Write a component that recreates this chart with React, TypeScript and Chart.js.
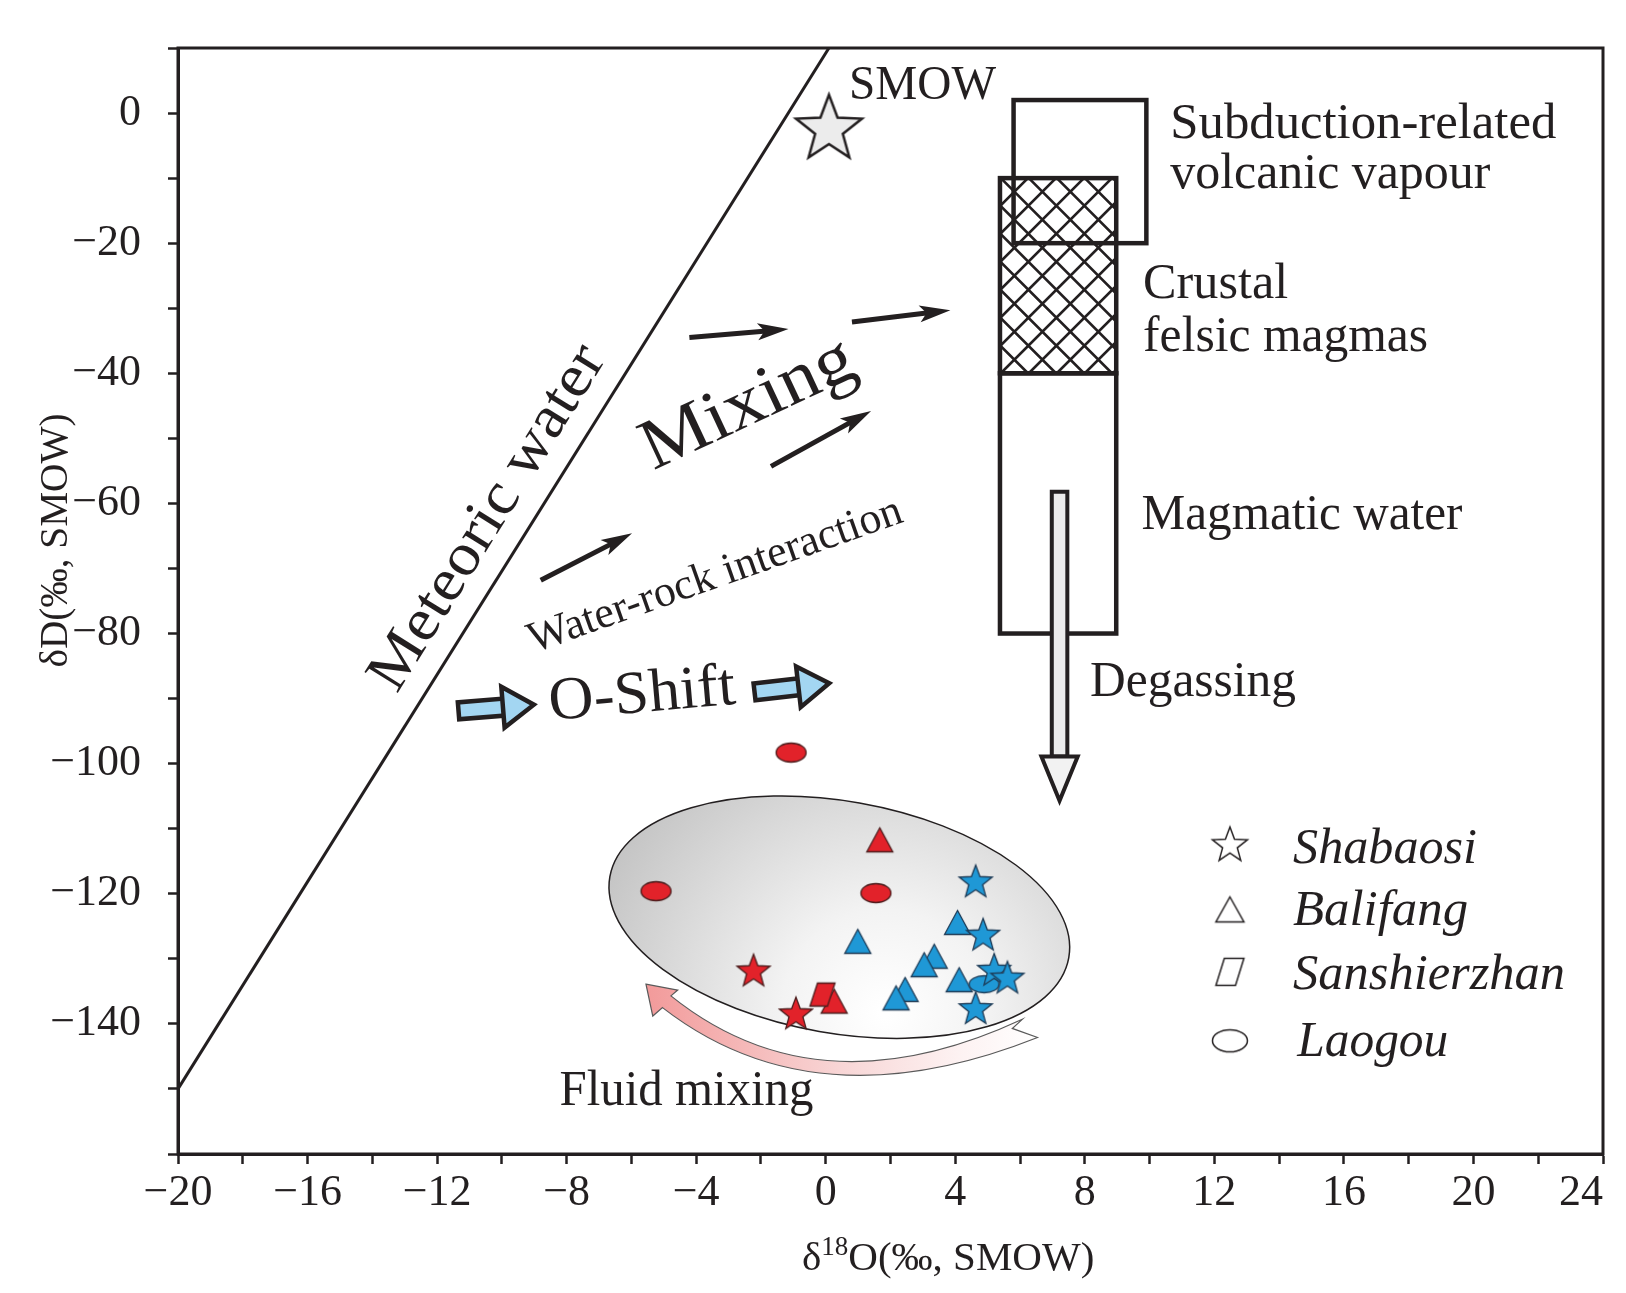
import React, { useEffect, useRef } from 'react';
import { Chart, registerables } from 'chart.js';

Chart.register(...registerables);

type Pt = [number, number];

// ---------------- axis definition ----------------
const xMin = -20;
const xMax = 24;
const xStep = 2;
const xLabelEvery = 4;
const yMin = -160;
const yMax = 10;
const yStep = 10;
const yLabelEvery = 20;
const yLabelLow = -140;
const yLabelHigh = 0;

// ---------------- data ----------------
const meteoricWater: Pt[] = [[-20, -150], [0.1, 10]];
const smowPoint: Pt[] = [[0.1, -2.0]];

const shabaosiRed: Pt[] = [[-2.23, -131.7], [-0.92, -138.3]];
const shabaosiBlue: Pt[] = [[4.63, -118.0], [4.86, -126.2], [5.2, -131.6], [5.61, -132.8], [4.63, -137.5]];
const balifangRed: Pt[] = [[1.67, -111.7], [0.26, -136.5]];
const balifangBlue: Pt[] = [[4.07, -124.4], [0.99, -127.3], [3.35, -129.6], [3.04, -130.9], [4.12, -133.2], [2.45, -134.7], [2.17, -136.0]];
const sanshierzhanRed: Pt[] = [[-0.1, -135.5]];
const laogouRed: Pt[] = [[-1.07, -98.3], [-5.24, -119.6], [1.55, -119.9]];
const laogouBlue: Pt[] = [[4.89, -133.9]];

// ---------------- annotation geometry (data units) ----------------
const vapourBox = { x0: 5.8, x1: 9.9, y0: -20, y1: 2 };
const felsicBox = { x0: 5.38, x1: 8.97, y0: -40, y1: -10 };
const magmaticBox = { x0: 5.38, x1: 8.97, y0: -80, y1: -40 };
const degassing = { x: 7.22, top: -58.2, headBase: -98.9, tip: -105.7, shaftHalf: 0.24, headHalf: 0.56 };
const mixingArrows: [Pt, Pt][] = [
  [[-8.8, -71.8], [-5.98, -64.6]],
  [[-1.69, -54.3], [1.4, -45.8]],
  [[-4.21, -34.5], [-1.15, -33.2]],
  [[0.81, -32.1], [3.85, -30.3]],
];
const oShiftArrows: [Pt, Pt][] = [
  [[-11.4, -91.9], [-8.92, -90.9]],
  [[-2.26, -89.0], [0.2, -87.6]],
];
const grayRegionCenter: Pt = [0.42, -123.6];
const fluidArrow = {
  tip: [-5.55, -133.9] as Pt,
  barbA: [-4.57, -134.8] as Pt,
  innerStart: [-4.78, -135.7] as Pt,
  innerCtrl: [-0.23, -153.9] as Pt,
  innerEnd: [6.07, -139.3] as Pt,
  notch: [5.76, -140.7] as Pt,
  outerEnd: [6.54, -142.1] as Pt,
  outerCtrl: [-0.33, -155.7] as Pt,
  outerStart: [-5.04, -137.5] as Pt,
  barbB: [-5.34, -138.8] as Pt,
};

interface TextSpec {
  text: string; x: number; y: number; size: number; width?: number;
  angle?: number; center?: boolean; italic?: boolean; alongMeteoric?: boolean;
}
const labels: TextSpec[] = [
  { text: 'SMOW', x: 0.72, y: 2.17, size: 48, width: 147 },
  { text: 'Subduction-related', x: 10.64, y: -3.9, size: 51, width: 386 },
  { text: 'volcanic vapour', x: 10.64, y: -11.5, size: 51, width: 320 },
  { text: 'Crustal', x: 9.8, y: -28.5, size: 51, width: 145 },
  { text: 'felsic magmas', x: 9.8, y: -36.5, size: 51, width: 285 },
  { text: 'Magmatic water', x: 9.75, y: -64, size: 51, width: 321 },
  { text: 'Degassing', x: 8.16, y: -89.6, size: 51, width: 206 },
  { text: 'Fluid mixing', x: -8.22, y: -152.4, size: 50, width: 254 },
  { text: 'Meteoric water', x: -10.42, y: -62.3, size: 60, width: 396, center: true, alongMeteoric: true },
  { text: 'Mixing', x: -2.38, y: -44.9, size: 72, width: 228, center: true, angle: -25 },
  { text: 'Water-rock interaction', x: -3.41, y: -71.2, size: 44, width: 394, center: true, angle: -19.5 },
  { text: 'O-Shift', x: -5.67, y: -89.6, size: 61, width: 187, center: true, angle: -5 },
];

const legendNames = ['Shabaosi', 'Balifang', 'Sanshierzhan', 'Laogou'];
const legendSymbolY = [-112.3, -122.4, -132.0, -142.6];
const legendLabelY = [-115.3, -124.8, -134.7, -145.0];
const legendSymbolX = 12.48;
const legendLabelX = [14.43, 14.43, 14.43, 14.56];
const legendLabelWidth = [184, 175, 272, 151];

// ---------------- styles ----------------
const INK = '#231f20';
const RED = '#e2222a';
const BLUE = '#1f98d6';
const LIGHT_BLUE = '#a3d6f2';
const FONT = '"Liberation Serif", "Times New Roman", serif';

type Shape = 'star' | 'triangle' | 'para' | 'ellipse';

function makeMarker(shape: Shape, w: number, h: number, fill: string, stroke: string, lw: number): HTMLCanvasElement {
  const c = document.createElement('canvas');
  const W = Math.ceil(w + lw * 2 + 6);
  const H = Math.ceil(h + lw * 2 + 6);
  c.width = W;
  c.height = H;
  const g = c.getContext('2d') as CanvasRenderingContext2D;
  const cx = W / 2;
  const cy = H / 2;
  g.beginPath();
  if (shape === 'star') {
    const R = w / (2 * Math.sin((72 * Math.PI) / 180));
    const r = R * 0.42;
    const gy = cy + 0.0955 * R;
    for (let i = 0; i < 10; i++) {
      const a = -Math.PI / 2 + (i * Math.PI) / 5;
      const rad = i % 2 === 0 ? R : r;
      const px = cx + rad * Math.cos(a);
      const py = gy + rad * Math.sin(a);
      if (i === 0) g.moveTo(px, py); else g.lineTo(px, py);
    }
    g.closePath();
  } else if (shape === 'triangle') {
    g.moveTo(cx, cy - h / 2);
    g.lineTo(cx + w / 2, cy + h / 2);
    g.lineTo(cx - w / 2, cy + h / 2);
    g.closePath();
  } else if (shape === 'para') {
    const s = w * 0.3;
    g.moveTo(cx - w / 2 + s, cy - h / 2);
    g.lineTo(cx + w / 2, cy - h / 2);
    g.lineTo(cx + w / 2 - s, cy + h / 2);
    g.lineTo(cx - w / 2, cy + h / 2);
    g.closePath();
  } else {
    g.ellipse(cx, cy, w / 2, h / 2, 0, 0, Math.PI * 2);
  }
  if (fill !== 'none') {
    g.fillStyle = fill;
    g.fill();
  }
  g.lineWidth = lw;
  g.strokeStyle = stroke;
  g.lineJoin = 'miter';
  g.stroke();
  return c;
}

function fmt(v: number): string {
  return v < 0 ? '\u2212' + Math.abs(v) : String(v);
}

export default function App() {
  const ref = useRef<HTMLCanvasElement | null>(null);

  useEffect(() => {
    const canvas = ref.current;
    if (!canvas) return;

    const redOutline = '#4a1c1c';
    const blueOutline = '#1d3a55';
    const mk = {
      starRed: makeMarker('star', 33, 32, RED, redOutline, 1.3),
      starBlue: makeMarker('star', 33, 32, BLUE, blueOutline, 1.3),
      triRed: makeMarker('triangle', 26, 24, RED, redOutline, 1.3),
      triBlue: makeMarker('triangle', 26, 24, BLUE, blueOutline, 1.3),
      paraRed: makeMarker('para', 25, 23, RED, redOutline, 1.3),
      ellRed: makeMarker('ellipse', 30, 19, RED, redOutline, 1.3),
      ellBlue: makeMarker('ellipse', 30, 17, BLUE, blueOutline, 1.3),
      smow: makeMarker('star', 66, 63, '#ececec', INK, 2.5),
    };
    const legendMarkers = [
      makeMarker('star', 35, 33, '#ffffff', INK, 1.5),
      makeMarker('triangle', 28, 25, '#ffffff', INK, 1.5),
      makeMarker('para', 28, 27, '#ffffff', INK, 1.5),
      makeMarker('ellipse', 35, 22, '#ffffff', INK, 1.5),
    ];

    const toXY = (arr: Pt[]) => arr.map(([x, y]) => ({ x, y }));
    const markerSet = (label: string, arr: Pt[], style: HTMLCanvasElement) => ({
      label,
      data: toXY(arr),
      pointStyle: style,
      pointRadius: 12,
      pointHoverRadius: 12,
      showLine: false,
    });

    const datasets: any[] = [
      markerSet('Shabaosi (blue)', shabaosiBlue, mk.starBlue),
      markerSet('Laogou (blue)', laogouBlue, mk.ellBlue),
      markerSet('Balifang (blue)', balifangBlue, mk.triBlue),
      markerSet('Shabaosi (red)', shabaosiRed, mk.starRed),
      markerSet('Sanshierzhan (red)', sanshierzhanRed, mk.paraRed),
      markerSet('Balifang (red)', balifangRed, mk.triRed),
      markerSet('Laogou (red)', laogouRed, mk.ellRed),
      markerSet('SMOW', smowPoint, mk.smow),
      {
        label: 'Meteoric water',
        data: toXY(meteoricWater),
        showLine: true,
        borderColor: INK,
        borderWidth: 3,
        pointRadius: 0,
        fill: false,
      },
    ];

    const drawText = (ctx: CanvasRenderingContext2D, t: TextSpec, X: (v: number) => number, Y: (v: number) => number) => {
      ctx.save();
      ctx.translate(X(t.x), Y(t.y));
      let ang = t.angle ? (t.angle * Math.PI) / 180 : 0;
      if (t.alongMeteoric) {
        const [a, b] = meteoricWater;
        ang = Math.atan2(Y(b[1]) - Y(a[1]), X(b[0]) - X(a[0]));
      }
      if (ang) ctx.rotate(ang);
      ctx.font = `${t.italic ? 'italic ' : ''}${t.size}px ${FONT}`;
      ctx.fillStyle = INK;
      ctx.textAlign = t.center ? 'center' : 'left';
      ctx.textBaseline = t.center ? 'middle' : 'alphabetic';
      if (t.width) {
        const w = ctx.measureText(t.text).width;
        ctx.scale(t.width / w, 1);
      }
      ctx.fillText(t.text, 0, 0);
      ctx.restore();
    };

    const annotationPlugin = {
      id: 'annotations',
      beforeDatasetsDraw(chart: any) {
        const ctx: CanvasRenderingContext2D = chart.ctx;
        const xs = chart.scales.x;
        const ys = chart.scales.y;
        const X = (v: number) => xs.getPixelForValue(v);
        const Y = (v: number) => ys.getPixelForValue(v);
        const P = (p: Pt): [number, number] => [X(p[0]), Y(p[1])];
        ctx.save();

        // fluid mixing curved arrow
        const fa = fluidArrow;
        ctx.beginPath();
        ctx.moveTo(...P(fa.tip));
        ctx.lineTo(...P(fa.barbA));
        ctx.lineTo(...P(fa.innerStart));
        ctx.quadraticCurveTo(...P(fa.innerCtrl), ...P(fa.innerEnd));
        ctx.lineTo(...P(fa.notch));
        ctx.lineTo(...P(fa.outerEnd));
        ctx.quadraticCurveTo(...P(fa.outerCtrl), ...P(fa.outerStart));
        ctx.lineTo(...P(fa.barbB));
        ctx.closePath();
        const fg = ctx.createLinearGradient(X(fa.tip[0]), 0, X(fa.outerEnd[0]), 0);
        fg.addColorStop(0, '#f29a9a');
        fg.addColorStop(0.5, '#f8d6d6');
        fg.addColorStop(0.8, '#fdf2f2');
        fg.addColorStop(1, '#ffffff');
        ctx.fillStyle = fg;
        ctx.fill();
        ctx.lineWidth = 1.2;
        ctx.strokeStyle = '#5a5a5a';
        ctx.lineJoin = 'miter';
        ctx.stroke();

        // gray data region
        const [gcx, gcy] = P(grayRegionCenter);
        ctx.beginPath();
        ctx.ellipse(gcx, gcy, 233, 116, (10 * Math.PI) / 180, 0, Math.PI * 2);
        const rg = ctx.createRadialGradient(gcx + 45, gcy + 95, 5, gcx + 45, gcy + 95, 330);
        rg.addColorStop(0, '#ffffff');
        rg.addColorStop(0.3, '#f3f3f3');
        rg.addColorStop(1, '#c0c0c0');
        ctx.fillStyle = rg;
        ctx.fill();
        ctx.lineWidth = 1.5;
        ctx.strokeStyle = INK;
        ctx.stroke();

        // cross-hatched crustal felsic magmas box
        const fx0 = X(felsicBox.x0), fx1 = X(felsicBox.x1), fy0 = Y(felsicBox.y1), fy1 = Y(felsicBox.y0);
        ctx.save();
        ctx.beginPath();
        ctx.rect(fx0, fy0, fx1 - fx0, fy1 - fy0);
        ctx.clip();
        ctx.beginPath();
        const hh = fy1 - fy0;
        const step = 28;
        for (let t = -hh - step; t < fx1 - fx0 + hh + step; t += step) {
          ctx.moveTo(fx0 + t, fy0);
          ctx.lineTo(fx0 + t + hh, fy1);
          ctx.moveTo(fx0 + t, fy1);
          ctx.lineTo(fx0 + t + hh, fy0);
        }
        ctx.lineWidth = 2.6;
        ctx.strokeStyle = INK;
        ctx.stroke();
        ctx.restore();

        ctx.lineWidth = 4.5;
        ctx.strokeStyle = INK;
        ctx.lineJoin = 'miter';
        for (const b of [felsicBox, magmaticBox]) {
          ctx.strokeRect(X(b.x0), Y(b.y1), X(b.x1) - X(b.x0), Y(b.y0) - Y(b.y1));
        }
        ctx.strokeRect(X(vapourBox.x0), Y(vapourBox.y1), X(vapourBox.x1) - X(vapourBox.x0), Y(vapourBox.y0) - Y(vapourBox.y1));

        // degassing arrow
        const d = degassing;
        const sx0 = X(d.x - d.shaftHalf), sx1 = X(d.x + d.shaftHalf);
        ctx.beginPath();
        ctx.rect(sx0, Y(d.top), sx1 - sx0, Y(d.headBase) - Y(d.top));
        ctx.fillStyle = '#ebebeb';
        ctx.fill();
        ctx.lineWidth = 4;
        ctx.stroke();
        ctx.beginPath();
        ctx.moveTo(X(d.x - d.headHalf), Y(d.headBase));
        ctx.lineTo(X(d.x + d.headHalf), Y(d.headBase));
        ctx.lineTo(X(d.x), Y(d.tip));
        ctx.closePath();
        ctx.fillStyle = '#f2f2f2';
        ctx.fill();
        ctx.stroke();

        // black mixing arrows
        for (const [a, b] of mixingArrows) {
          const [x0, y0] = P(a);
          const [x1, y1] = P(b);
          const L = Math.hypot(x1 - x0, y1 - y0);
          ctx.save();
          ctx.translate(x0, y0);
          ctx.rotate(Math.atan2(y1 - y0, x1 - x0));
          ctx.beginPath();
          ctx.moveTo(0, 0);
          ctx.lineTo(L - 22, 0);
          ctx.lineWidth = 5;
          ctx.strokeStyle = INK;
          ctx.stroke();
          ctx.beginPath();
          ctx.moveTo(L, 0);
          ctx.lineTo(L - 31, -8.5);
          ctx.lineTo(L - 24, 0);
          ctx.lineTo(L - 31, 8.5);
          ctx.closePath();
          ctx.fillStyle = INK;
          ctx.fill();
          ctx.restore();
        }

        // blue O-shift block arrows
        for (const [a, b] of oShiftArrows) {
          const [x0, y0] = P(a);
          const [x1, y1] = P(b);
          const L = Math.hypot(x1 - x0, y1 - y0);
          ctx.save();
          ctx.translate(x0, y0);
          ctx.rotate(Math.atan2(y1 - y0, x1 - x0));
          const headL = 34, headH = 20.5, shaftH = 8.5;
          ctx.lineWidth = 4.5;
          ctx.strokeStyle = INK;
          ctx.fillStyle = LIGHT_BLUE;
          ctx.lineJoin = 'miter';
          ctx.beginPath();
          ctx.rect(2, -shaftH, L - headL + 2, 2 * shaftH);
          ctx.fill();
          ctx.stroke();
          ctx.beginPath();
          ctx.moveTo(L - headL, -headH);
          ctx.lineTo(L - 3, 0);
          ctx.lineTo(L - headL, headH);
          ctx.closePath();
          ctx.fill();
          ctx.stroke();
          ctx.restore();
        }

        // texts
        for (const t of labels) drawText(ctx, t, X, Y);

        // legend
        legendNames.forEach((name, i) => {
          const m = legendMarkers[i];
          ctx.drawImage(m, X(legendSymbolX) - m.width / 2, Y(legendSymbolY[i]) - m.height / 2);
          drawText(ctx, { text: name, x: legendLabelX[i], y: legendLabelY[i], size: 50, italic: true, width: legendLabelWidth[i] }, X, Y);
        });

        ctx.restore();
      },
      afterDraw(chart: any) {
        const ctx: CanvasRenderingContext2D = chart.ctx;
        const a = chart.chartArea;
        const xs = chart.scales.x;
        const ys = chart.scales.y;
        ctx.save();
        ctx.lineWidth = 3;
        ctx.strokeStyle = INK;
        ctx.strokeRect(a.left, a.top, a.right - a.left, a.bottom - a.top);

        // y title
        ctx.save();
        ctx.translate(a.left - 122, ys.getPixelForValue(-65.7));
        ctx.rotate(-Math.PI / 2);
        ctx.font = `40px ${FONT}`;
        ctx.fillStyle = INK;
        ctx.textAlign = 'center';
        ctx.textBaseline = 'middle';
        const yt = 'δD(‰, SMOW)';
        const ytw = ctx.measureText(yt).width;
        ctx.save();
        ctx.scale(254 / ytw, 1);
        ctx.fillText(yt, 0, 0);
        ctx.restore();
        ctx.restore();

        // x title with superscript
        const cx = xs.getPixelForValue(3.78);
        const by = a.bottom + 116;
        const big = `41px ${FONT}`;
        const small = `27px ${FONT}`;
        ctx.font = big;
        const w1 = ctx.measureText('δ').width;
        const w3 = ctx.measureText('O(‰, SMOW)').width;
        ctx.font = small;
        const w2 = ctx.measureText('18').width;
        const total = w1 + w2 + w3;
        let x = cx - total / 2;
        ctx.fillStyle = INK;
        ctx.textAlign = 'left';
        ctx.textBaseline = 'alphabetic';
        ctx.font = big;
        ctx.fillText('δ', x, by);
        x += w1;
        ctx.font = small;
        ctx.fillText('18', x, by - 15);
        x += w2;
        ctx.font = big;
        ctx.fillText('O(‰, SMOW)', x, by);
        ctx.restore();
      },
    };

    const tickFont = { family: FONT, size: 44 };
    const chart = new Chart(canvas, {
      type: 'scatter',
      data: { datasets },
      options: {
        animation: false,
        responsive: false,
        events: [],
        layout: { padding: { left: 0, right: 23, top: 48, bottom: 0 } },
        plugins: { legend: { display: false }, tooltip: { enabled: false } },
        scales: {
          x: {
            type: 'linear',
            min: xMin,
            max: xMax,
            ticks: {
              stepSize: xStep,
              autoSkip: false,
              maxRotation: 0,
              minRotation: 0,
              padding: 3,
              color: INK,
              font: tickFont,
              callback: (v: any) => {
                const n = Number(v);
                if (n % xLabelEvery !== 0) return '';
                // the last label sits inside the frame, as in the original figure
                return n === xMax ? fmt(n) + '\u2003' : fmt(n);
              },
            },
            grid: { drawOnChartArea: false, drawTicks: true, tickLength: 10, tickWidth: 2.5, color: INK },
            border: { display: true, color: INK, width: 3 },
            afterFit: (s: any) => {
              s.height = 139;
              s.paddingLeft = 0; s.paddingRight = 0; s.paddingTop = 0; s.paddingBottom = 0;
            },
          },
          y: {
            type: 'linear',
            min: yMin,
            max: yMax,
            ticks: {
              stepSize: yStep,
              autoSkip: false,
              padding: 27,
              color: INK,
              font: tickFont,
              callback: (v: any) => {
                const n = Number(v);
                return n % yLabelEvery === 0 && n >= yLabelLow && n <= yLabelHigh ? fmt(n) : '';
              },
            },
            grid: { drawOnChartArea: false, drawTicks: true, tickLength: 10, tickWidth: 2.5, color: INK },
            border: { display: true, color: INK, width: 3 },
            afterFit: (s: any) => {
              s.width = 178;
              s.paddingLeft = 0; s.paddingRight = 0; s.paddingTop = 0; s.paddingBottom = 0;
            },
          },
        },
      } as any,
      plugins: [annotationPlugin],
    });

    return () => chart.destroy();
  }, []);

  return (
    <div style={{ position: 'fixed', left: 0, top: 0, width: 1626, height: 1293, background: '#ffffff' }}>
      <canvas ref={ref} width={1626} height={1293} style={{ display: 'block', width: 1626, height: 1293 }} />
    </div>
  );
}
